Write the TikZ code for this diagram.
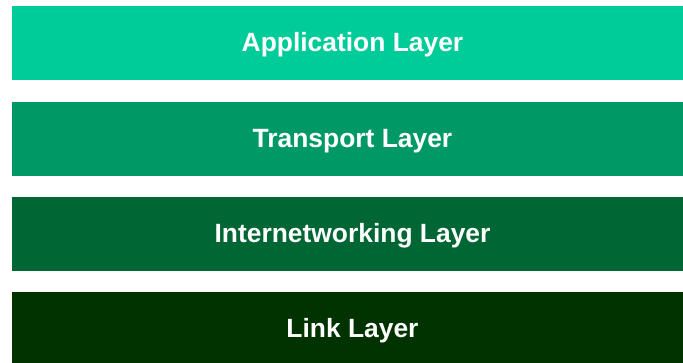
\documentclass[tikz,border=0pt]{standalone}
\usepackage{fontspec}
\setmainfont{Liberation Sans}
\definecolor{appgreen}{HTML}{00CC99}
\definecolor{transgreen}{HTML}{009966}
\definecolor{netgreen}{HTML}{006633}
\definecolor{linkgreen}{HTML}{003300}
\tikzset{
  layerbar/.style={rectangle, draw=none, inner sep=0pt, minimum width=681pt, minimum height=74pt},
  layerlabel/.style={anchor=base, text=white, inner sep=0pt, font=\fontsize{26.4}{30}\selectfont\bfseries}
}
\begin{document}
\begin{tikzpicture}[x=1pt,y=1pt]
  \useasboundingbox (0,0) rectangle (683,-362);
  \clip (0,0) rectangle (683,-362);
  \fill[white] (0,0) rectangle (683,-362);
  % protocol stack, top to bottom
  \node[layerbar, fill=appgreen]   (app)   at (352.5,-43)  {};
  \node[layerbar, fill=transgreen] (trans) at (352.5,-139) {};
  \node[layerbar, fill=netgreen]   (net)   at (352.5,-234) {};
  \node[layerbar, fill=linkgreen, minimum height=80pt] (link) at (352.5,-332) {};
  \node[layerlabel] (applbl)   at (352.5,-51.2)  {Application Layer};
  \node[layerlabel] (translbl) at (352.5,-147.2) {Transport Layer};
  \node[layerlabel] (netlbl)   at (352.5,-242.7) {Internetworking Layer};
  \node[layerlabel] (linklbl)  at (352.5,-337.7) {Link Layer};
\end{tikzpicture}
\end{document}
